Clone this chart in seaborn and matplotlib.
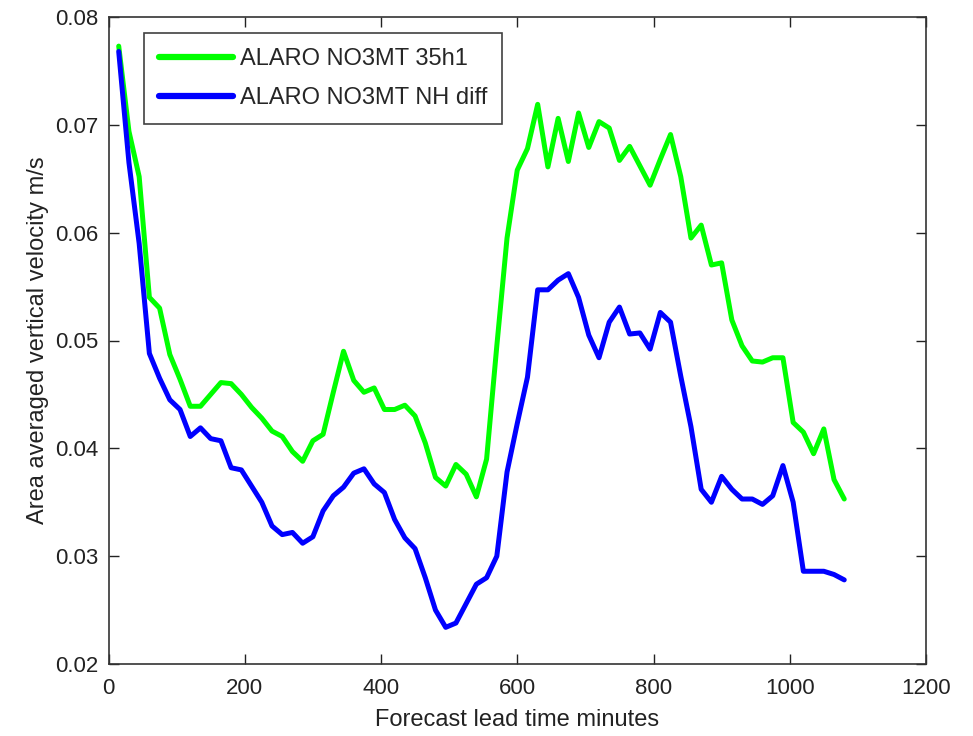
import numpy as np
import pandas as pd
import matplotlib
matplotlib.use("Agg")
import matplotlib.pyplot as plt
import seaborn as sns

# Forecast lead time (minutes), one value every 15 minutes
lead_time = list(range(15, 1081, 15))

# Area averaged vertical velocity (m/s), ALARO NO3MT 35h1
w_35h1 = [
    0.0773, 0.0694, 0.0652, 0.0540, 0.0530, 0.0487, 0.0464, 0.0439,
    0.0439, 0.0450, 0.0461, 0.0460, 0.0450, 0.0438, 0.0428, 0.0416,
    0.0411, 0.0397, 0.0388, 0.0407, 0.0413, 0.0452, 0.0490, 0.0463,
    0.0452, 0.0456, 0.0436, 0.0436, 0.0440, 0.0430, 0.0405, 0.0373,
    0.0365, 0.0385, 0.0376, 0.0355, 0.0390, 0.0495, 0.0595, 0.0658,
    0.0678, 0.0719, 0.0661, 0.0706, 0.0666, 0.0711, 0.0679, 0.0703,
    0.0697, 0.0667, 0.0680, 0.0662, 0.0644, 0.0668, 0.0691, 0.0652,
    0.0595, 0.0607, 0.0570, 0.0572, 0.0519, 0.0495, 0.0481, 0.0480,
    0.0484, 0.0484, 0.0424, 0.0415, 0.0395, 0.0418, 0.0371, 0.0353,
]

# Area averaged vertical velocity (m/s), ALARO NO3MT NH diff
w_nh_diff = [
    0.0768, 0.0665, 0.0590, 0.0488, 0.0465, 0.0445, 0.0436, 0.0411,
    0.0419, 0.0409, 0.0407, 0.0382, 0.0380, 0.0365, 0.0350, 0.0328,
    0.0320, 0.0322, 0.0312, 0.0318, 0.0342, 0.0356, 0.0364, 0.0377,
    0.0381, 0.0367, 0.0359, 0.0334, 0.0317, 0.0307, 0.0280, 0.0250,
    0.0234, 0.0238, 0.0256, 0.0274, 0.0280, 0.0300, 0.0378, 0.0423,
    0.0466, 0.0547, 0.0547, 0.0556, 0.0562, 0.0540, 0.0505, 0.0484,
    0.0517, 0.0531, 0.0506, 0.0507, 0.0492, 0.0526, 0.0517, 0.0467,
    0.0420, 0.0362, 0.0350, 0.0374, 0.0362, 0.0353, 0.0353, 0.0348,
    0.0356, 0.0384, 0.0350, 0.0286, 0.0286, 0.0286, 0.0283, 0.0278,
]

series_names = ["ALARO NO3MT 35h1", "ALARO NO3MT NH diff"]
series_colors = ["#00ff00", "#0000ff"]

x_ticks = [0, 200, 400, 600, 800, 1000, 1200]
y_ticks = [0.02, 0.03, 0.04, 0.05, 0.06, 0.07, 0.08]

df = pd.DataFrame({
    "time": lead_time * 2,
    "w": w_35h1 + w_nh_diff,
    "run": [series_names[0]] * len(lead_time) + [series_names[1]] * len(lead_time),
})

sns.set_theme(style="ticks")
plt.rcParams["font.family"] = ["Liberation Sans", "DejaVu Sans"]

fig = plt.figure(figsize=(9.73, 7.36), dpi=100)
ax = fig.add_axes([108.5 / 973, 1 - 664 / 736, (926 - 108.5) / 973, (664 - 17) / 736])

sns.lineplot(
    data=df, x="time", y="w", hue="run",
    palette=dict(zip(series_names, series_colors)),
    linewidth=3.6, ax=ax, legend=True,
)

ax.set_xlim(0, 1200)
ax.set_ylim(0.02, 0.08)
ax.set_xticks(x_ticks)
ax.set_xticklabels([str(t) for t in x_ticks])
ax.set_yticks(y_ticks)
ax.set_yticklabels([f"{t:.2f}" for t in y_ticks])

ax.tick_params(direction="in", length=7, width=1, top=True, right=True,
               labelsize=16, colors="#222222")
ax.tick_params(axis="x", pad=10)
ax.tick_params(axis="y", pad=7)
for sp in ax.spines.values():
    sp.set_visible(True)
    sp.set_color("#333333")
    sp.set_linewidth(1.2)

ax.set_xlabel("Forecast lead time minutes", fontsize=17, color="#222222", labelpad=7)
ax.set_ylabel("Area averaged vertical velocity m/s", fontsize=17, color="#222222", labelpad=5)

handles, labels = ax.get_legend_handles_labels()
leg = ax.legend(
    handles, labels, loc="upper left",
    bbox_to_anchor=(144 / 973, 1 - 33 / 736), bbox_transform=fig.transFigure,
    borderaxespad=0, fontsize=17, frameon=True, fancybox=False,
    handlelength=3.1, handletextpad=0.3, labelspacing=0.7,
    borderpad=0.65, edgecolor="#111111",
)
leg.get_frame().set_linewidth(1.2)
for line in leg.get_lines():
    line.set_linewidth(4.5)

fig.savefig("out.png", dpi=100, facecolor="white")
